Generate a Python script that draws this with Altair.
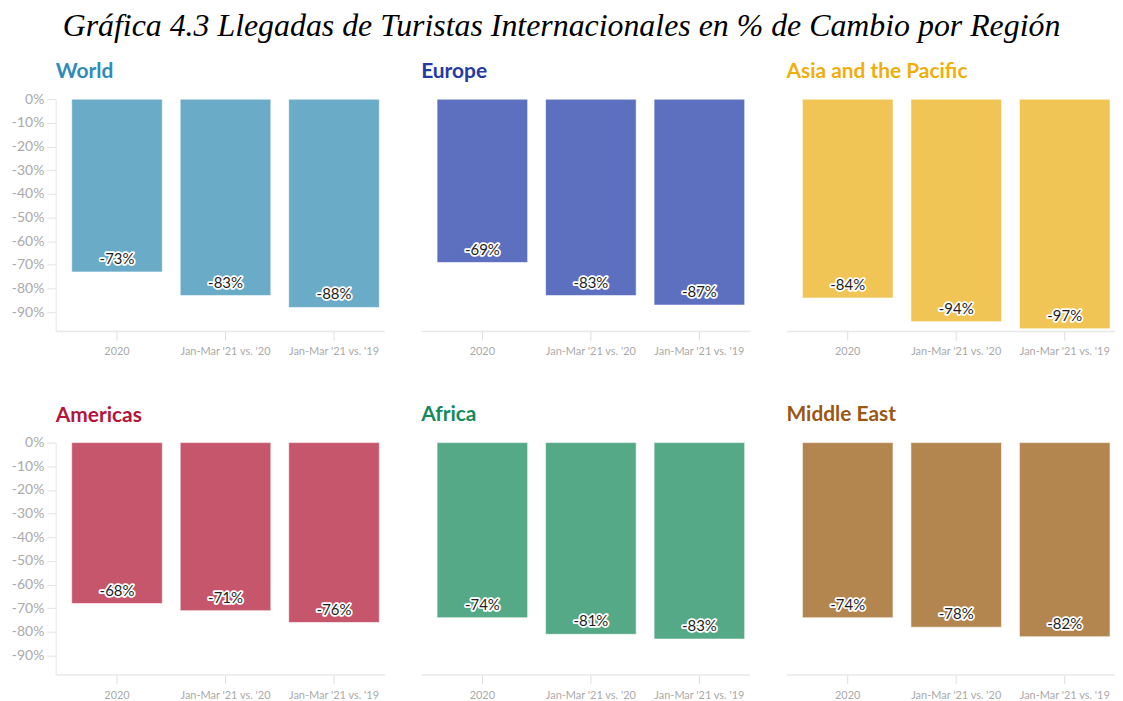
import altair as alt
import pandas as pd

# ---- data ----
regions = ["World", "Europe", "Asia and the Pacific", "Americas", "Africa", "Middle East"]
periods = ["2020", "Jan-Mar '21 vs. '20", "Jan-Mar '21 vs. '19"]
world = [-73, -83, -88]
europe = [-69, -83, -87]
asia_pacific = [-84, -94, -97]
americas = [-68, -71, -76]
africa = [-74, -81, -83]
middle_east = [-74, -78, -82]
series = [world, europe, asia_pacific, americas, africa, middle_east]
y_ticks = [0, -10, -20, -30, -40, -50, -60, -70, -80, -90]

bar_colors = ["#6aabc7", "#5d6fbf", "#f1c555", "#c6566b", "#55a987", "#b3864f"]
title_colors = ["#2f8bb7", "#2539a8", "#f0ae0a", "#b5153c", "#178a5b", "#9b5716"]

W, H = 330, 233


def panel(i, show_y):
    vals = series[i]
    df = pd.DataFrame({
        "period": periods,
        "value": vals,
        "lbl": [f"{v}%" for v in vals],
    })
    base = alt.Chart(df)
    x = alt.X(
        "period:N", sort=periods,
        scale=alt.Scale(paddingInner=0.165, paddingOuter=0.0963, align=0.762),
        axis=alt.Axis(title=None, labelAngle=0, labelFont="Lato", labelFontSize=11,
                      labelColor="#aaaaaa", domainColor="#e8e8e8", domainWidth=1.5,
                      tickColor="#dddddd", tickSize=9, labelPadding=6),
    )
    if show_y:
        yaxis = alt.Axis(title=None, values=y_ticks, labelExpr="datum.value + '%'",
                         labelFont="Lato", labelFontSize=14, labelColor="#aaaaaa",
                         domainColor="#eeeeee", domainWidth=1.5, tickColor="#e2e2e2",
                         tickSize=9, labelPadding=3, grid=False, minExtent=48)
    else:
        yaxis = None
    y = alt.Y("value:Q", scale=alt.Scale(domain=[-98, 0], nice=False, zero=False), axis=yaxis)

    bars = base.mark_bar(color=bar_colors[i], stroke="white", strokeWidth=1,
                         strokeOpacity=0.6).encode(x=x, y=y)
    halo = base.mark_text(dy=-13, font="Lato", fontSize=15, color="white", stroke="white",
                          strokeWidth=3.5, strokeJoin="round", baseline="middle").encode(
        x=x, y=y, text="lbl:N")
    txt = base.mark_text(dy=-13, font="Lato", fontSize=15, color="#1e1e1e",
                         baseline="middle").encode(x=x, y=y, text="lbl:N")
    return alt.layer(bars, halo, txt).properties(
        width=W, height=H,
        title=alt.TitleParams(text=regions[i], color=title_colors[i], font="Lato",
                              fontSize=21, fontWeight="bold", anchor="start",
                              frame="group", baseline="alphabetic",
                              offset=-7 if show_y else 0),
    )


row1 = alt.hconcat(panel(0, True), panel(1, False), panel(2, False), spacing=37)
row2 = alt.hconcat(panel(3, True), panel(4, False), panel(5, False), spacing=37)

chart = alt.vconcat(row1, row2, spacing=47).properties(
    padding=0,
    title=alt.TitleParams(
        text="Gráfica 4.3 Llegadas de Turistas Internacionales en % de Cambio por Región",
        font="Liberation Serif", fontStyle="italic", fontWeight="normal", fontSize=32,
        color="#000000", anchor="middle", offset=18,
    ),
).configure_view(stroke=None)

chart.save("out.html", embed_options={"renderer": "svg", "actions": False})
